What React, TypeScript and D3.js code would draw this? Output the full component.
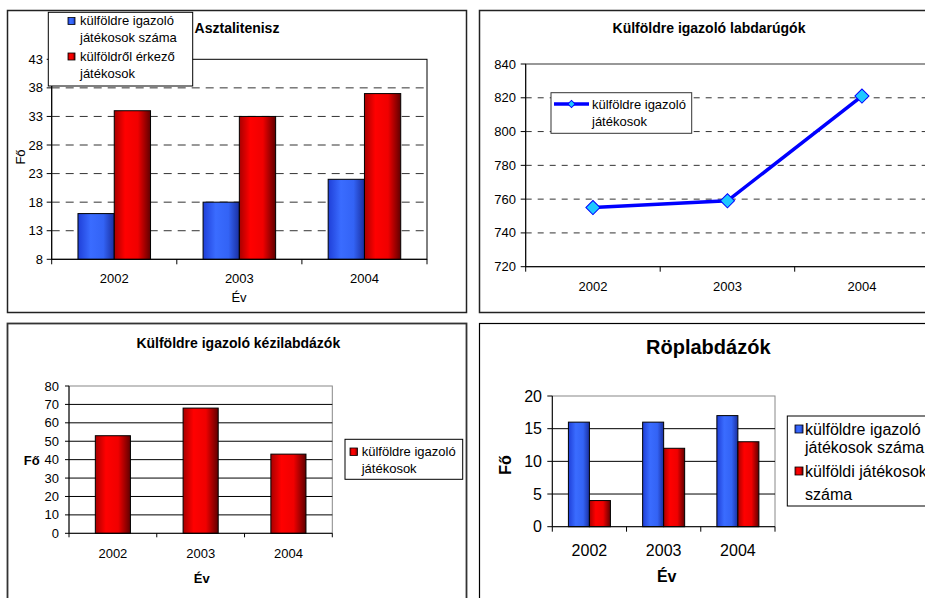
import { scaleBand, scaleLinear, line, symbol, symbolSquare } from "d3";

// shared categories
const years = ["2002", "2003", "2004"];

// Asztalitenisz
const ttForeign = [16, 18, 22];
const ttIncoming = [34, 33, 37];
const ttTicks = [8, 13, 18, 23, 28, 33, 38, 43];

// labdarúgók
const fbForeign = [755, 759, 821];
const fbTicks = [720, 740, 760, 780, 800, 820, 840];

// kézilabdázók
const hbForeign = [53, 68, 43];
const hbTicks = [0, 10, 20, 30, 40, 50, 60, 70, 80];

// Röplabdázók
const vbForeign = [16, 16, 17];
const vbIncoming = [4, 12, 13];
const vbTicks = [0, 5, 10, 15, 20];

const FONT = "'Liberation Sans', Arial, sans-serif";

function Gradients() {
    return (
        <defs>
            <linearGradient id="blueGrad" x1="0" x2="1" y1="0" y2="0">
                <stop offset="0%" stopColor="#1f3fd8" />
                <stop offset="35%" stopColor="#3a6cff" />
                <stop offset="70%" stopColor="#3363f5" />
                <stop offset="100%" stopColor="#1a2fa0" />
            </linearGradient>
            <linearGradient id="redGrad" x1="0" x2="1" y1="0" y2="0">
                <stop offset="0%" stopColor="#a80000" />
                <stop offset="30%" stopColor="#ff0000" />
                <stop offset="65%" stopColor="#f00000" />
                <stop offset="100%" stopColor="#600000" />
            </linearGradient>
        </defs>
    );
}

function TableTennis() {
    const x0 = 51.7, x1 = 427, top = 59.3, bottom = 259.3;
    const y = scaleLinear().domain([8, 43]).range([bottom, top]);
    const x = scaleBand().domain(years).range([x0, x1]).paddingInner(0.42).paddingOuter(0.21);
    const inner = scaleBand().domain(["a", "b"]).range([0, x.bandwidth()]);
    const step = x.step();
    const bounds = [0, 1, 2, 3].map(i => x0 + i * step);
    return (
        <g fontFamily={FONT}>
            <rect x={7.5} y={10.5} width={459} height={302} fill="white" stroke="#222" strokeWidth={1.5} />
            <rect x={x0} y={top} width={x1 - x0} height={bottom - top} fill="white" stroke="#000" />
            {ttTicks.slice(1, -1).map(t => (
                <line key={t} x1={x0} x2={x1} y1={y(t)} y2={y(t)} stroke="#333" strokeDasharray="8,6" />
            ))}
            {years.map((yr, i) => (
                <g key={yr}>
                    <rect x={x(yr)! + inner("a")!} y={y(ttForeign[i])} width={inner.bandwidth()}
                        height={bottom - y(ttForeign[i])} fill="url(#blueGrad)" stroke="#000" />
                    <rect x={x(yr)! + inner("b")!} y={y(ttIncoming[i])} width={inner.bandwidth()}
                        height={bottom - y(ttIncoming[i])} fill="url(#redGrad)" stroke="#000" />
                </g>
            ))}
            <line x1={x0} x2={x0} y1={top} y2={bottom} stroke="#000" />
            <line x1={x0} x2={x1} y1={bottom} y2={bottom} stroke="#000" />
            {ttTicks.map(t => (
                <g key={t}>
                    <line x1={x0 - 5} x2={x0} y1={y(t)} y2={y(t)} stroke="#000" />
                    <text x={43} y={y(t)} dy="0.35em" textAnchor="end" fontSize={13}>{t}</text>
                </g>
            ))}
            {bounds.map((b, i) => <line key={i} x1={b} x2={b} y1={bottom} y2={bottom + 5} stroke="#000" />)}
            {years.map(yr => (
                <text key={yr} x={x(yr)! + x.bandwidth() / 2} y={278} dy="0.35em" textAnchor="middle" fontSize={13}>{yr}</text>
            ))}
            <text x={239} y={297} dy="0.35em" textAnchor="middle" fontSize={13}>Év</text>
            <text transform="translate(20,157) rotate(-90)" dy="0.35em" textAnchor="middle" fontSize={13}>Fő</text>
            <text x={237} y={28} dy="0.35em" textAnchor="middle" fontSize={14} fontWeight="bold">Asztalitenisz</text>
            <rect x={48.3} y={12.3} width={144.4} height={73.7} fill="white" stroke="#000" />
            <rect x={68} y={17.5} width={7} height={7} fill="url(#blueGrad)" stroke="#000" strokeWidth={0.8} />
            <rect x={68} y={53} width={7} height={7} fill="url(#redGrad)" stroke="#000" strokeWidth={0.8} />
            <g fontSize={13}>
                <text x={80} y={20.7} dy="0.35em">külföldre igazoló</text>
                <text x={80} y={37.3} dy="0.35em">játékosok száma</text>
                <text x={80} y={56.7} dy="0.35em">külföldről érkező</text>
                <text x={80} y={73.3} dy="0.35em">játékosok</text>
            </g>
        </g>
    );
}

function Football() {
    const x0 = 525.7, top = 64, bottom = 266.7, step = 134.5;
    const x1 = x0 + step * 3;
    const y = scaleLinear().domain([720, 840]).range([bottom, top]);
    const x = scaleBand().domain(years).range([x0, x1]);
    const cx = (yr: string) => x(yr)! + x.bandwidth() / 2;
    const pts: [number, number][] = years.map((yr, i) => [cx(yr), y(fbForeign[i])]);
    const path = line()(pts) || "";
    const diamond = symbol().type(symbolSquare).size(100)() || "";
    const smallDiamond = symbol().type(symbolSquare).size(26)() || "";
    const bounds = [0, 1, 2, 3].map(i => x0 + i * step);
    return (
        <g fontFamily={FONT}>
            <rect x={479.5} y={10.5} width={470} height={302} fill="white" stroke="#222" strokeWidth={1.5} />
            <rect x={x0} y={top} width={x1 - x0} height={bottom - top} fill="white" stroke="#333" />
            {fbTicks.slice(1, -1).map(t => (
                <line key={t} x1={x0} x2={x1} y1={y(t)} y2={y(t)} stroke="#333" strokeDasharray="6,6" />
            ))}
            <line x1={x0} x2={x0} y1={top} y2={bottom} stroke="#000" />
            <line x1={x0} x2={x1} y1={bottom} y2={bottom} stroke="#000" />
            {fbTicks.map(t => (
                <g key={t}>
                    <line x1={x0 - 5} x2={x0} y1={y(t)} y2={y(t)} stroke="#000" />
                    <text x={516} y={y(t)} dy="0.35em" textAnchor="end" fontSize={13}>{t}</text>
                </g>
            ))}
            {bounds.map((b, i) => <line key={i} x1={b} x2={b} y1={bottom} y2={bottom + 5} stroke="#000" />)}
            {years.map(yr => (
                <text key={yr} x={cx(yr)} y={286} dy="0.35em" textAnchor="middle" fontSize={13}>{yr}</text>
            ))}
            <path d={path} fill="none" stroke="#0000ff" strokeWidth={3.5} />
            {pts.map((p, i) => (
                <path key={i} d={diamond} transform={`translate(${p[0]},${p[1]}) rotate(45)`} fill="#1ec8ff" stroke="#0000ff" />
            ))}
            <text x={709} y={28} dy="0.35em" textAnchor="middle" fontSize={14} fontWeight="bold">Külföldre igazoló labdarúgók</text>
            <rect x={551} y={92.7} width={140.7} height={40.6} fill="white" stroke="#333" />
            <line x1={554} x2={589} y1={104} y2={104} stroke="#0000ff" strokeWidth={3.5} />
            <path d={smallDiamond} transform="translate(571.5,104) rotate(45)" fill="#1ec8ff" stroke="#0000ff" />
            <g fontSize={13}>
                <text x={592} y={104.5} dy="0.35em">külföldre igazoló</text>
                <text x={592} y={121.5} dy="0.35em">játékosok</text>
            </g>
        </g>
    );
}

function Handball() {
    const x0 = 69, x1 = 332.3, top = 386, bottom = 533.3;
    const y = scaleLinear().domain([0, 80]).range([bottom, top]);
    const x = scaleBand().domain(years).range([x0, x1]).paddingInner(0.6).paddingOuter(0.3);
    const step = x.step();
    const bounds = [0, 1, 2, 3].map(i => x0 + i * step);
    return (
        <g fontFamily={FONT}>
            <rect x={7.5} y={323.5} width={459} height={290} fill="white" stroke="#333" strokeWidth={1.8} />
            <rect x={x0} y={top} width={x1 - x0} height={bottom - top} fill="white" stroke="#888" />
            {hbTicks.slice(1, -1).map(t => (
                <line key={t} x1={x0} x2={x1} y1={y(t)} y2={y(t)} stroke="#000" />
            ))}
            {years.map((yr, i) => (
                <rect key={yr} x={x(yr)} y={y(hbForeign[i])} width={x.bandwidth()}
                    height={bottom - y(hbForeign[i])} fill="url(#redGrad)" stroke="#000" />
            ))}
            <line x1={x0} x2={x0} y1={top} y2={bottom} stroke="#000" />
            <line x1={x0} x2={x1} y1={bottom} y2={bottom} stroke="#000" />
            {hbTicks.map(t => (
                <g key={t}>
                    <line x1={x0 - 4} x2={x0} y1={y(t)} y2={y(t)} stroke="#000" />
                    <text x={59} y={y(t)} dy="0.35em" textAnchor="end" fontSize={13}>{t}</text>
                </g>
            ))}
            {bounds.map((b, i) => <line key={i} x1={b} x2={b} y1={bottom} y2={bottom + 4} stroke="#000" />)}
            {years.map(yr => (
                <text key={yr} x={x(yr)! + x.bandwidth() / 2} y={553.3} dy="0.35em" textAnchor="middle" fontSize={13}>{yr}</text>
            ))}
            <text x={201.7} y={578.3} dy="0.35em" textAnchor="middle" fontSize={13} fontWeight="bold">Év</text>
            <text x={31.7} y={460} dy="0.35em" textAnchor="middle" fontSize={13} fontWeight="bold">Fő</text>
            <text x={238.3} y={343.3} dy="0.35em" textAnchor="middle" fontSize={14} fontWeight="bold">Külföldre igazoló kézilabdázók</text>
            <rect x={345} y={439.3} width={117.7} height={40} fill="white" stroke="#000" />
            <rect x={350} y={448} width={7.5} height={7.5} fill="url(#redGrad)" stroke="#000" strokeWidth={0.8} />
            <g fontSize={13}>
                <text x={361.7} y={451.7} dy="0.35em">külföldre igazoló</text>
                <text x={361.7} y={468.3} dy="0.35em">játékosok</text>
            </g>
        </g>
    );
}

function Volleyball() {
    const x0 = 552.3, x1 = 775, top = 396, bottom = 526.7;
    const y = scaleLinear().domain([0, 20]).range([bottom, top]);
    const x = scaleBand().domain(years).range([x0, x1]).paddingInner(0.434).paddingOuter(0.217);
    const inner = scaleBand().domain(["a", "b"]).range([0, x.bandwidth()]);
    const step = x.step();
    const bounds = [0, 1, 2, 3].map(i => x0 + i * step);
    return (
        <g fontFamily={FONT}>
            <rect x={479.5} y={323.5} width={470} height={290} fill="white" stroke="#000" strokeWidth={1.2} />
            <rect x={x0} y={top} width={x1 - x0} height={bottom - top} fill="white" stroke="#888" />
            {vbTicks.slice(1, -1).map(t => (
                <line key={t} x1={x0} x2={x1} y1={y(t)} y2={y(t)} stroke="#000" />
            ))}
            {years.map((yr, i) => (
                <g key={yr}>
                    <rect x={x(yr)! + inner("a")!} y={y(vbForeign[i])} width={inner.bandwidth()}
                        height={bottom - y(vbForeign[i])} fill="url(#blueGrad)" stroke="#000" />
                    <rect x={x(yr)! + inner("b")!} y={y(vbIncoming[i])} width={inner.bandwidth()}
                        height={bottom - y(vbIncoming[i])} fill="url(#redGrad)" stroke="#000" />
                </g>
            ))}
            <line x1={x0} x2={x0} y1={top} y2={bottom} stroke="#000" />
            <line x1={x0} x2={x1} y1={bottom} y2={bottom} stroke="#000" />
            {vbTicks.map(t => (
                <g key={t}>
                    <line x1={x0 - 5} x2={x0} y1={y(t)} y2={y(t)} stroke="#000" />
                    <text x={542} y={y(t)} dy="0.35em" textAnchor="end" fontSize={16}>{t}</text>
                </g>
            ))}
            {bounds.map((b, i) => <line key={i} x1={b} x2={b} y1={bottom} y2={bottom + 5} stroke="#000" />)}
            {years.map(yr => (
                <text key={yr} x={x(yr)! + x.bandwidth() / 2} y={550} dy="0.35em" textAnchor="middle" fontSize={16}>{yr}</text>
            ))}
            <text x={666.7} y={576.7} dy="0.35em" textAnchor="middle" fontSize={16} fontWeight="bold">Év</text>
            <text transform="translate(505,465) rotate(-90)" dy="0.35em" textAnchor="middle" fontSize={16} fontWeight="bold">Fő</text>
            <text x={708.3} y={347.3} dy="0.35em" textAnchor="middle" fontSize={20} fontWeight="bold">Röplabdázók</text>
            <rect x={787.3} y={416} width={160} height={90} fill="white" stroke="#000" />
            <rect x={795} y={425} width={8} height={8} fill="url(#blueGrad)" stroke="#000" strokeWidth={0.8} />
            <rect x={795} y={467} width={8} height={8} fill="url(#redGrad)" stroke="#000" strokeWidth={0.8} />
            <g fontSize={16}>
                <text x={805} y={429.3} dy="0.35em">külföldre igazoló</text>
                <text x={805} y={447.7} dy="0.35em">játékosok száma</text>
                <text x={805} y={471} dy="0.35em">külföldi játékosok</text>
                <text x={805} y={494.3} dy="0.35em">száma</text>
            </g>
        </g>
    );
}

export default function App() {
    return (
        <svg width={925} height={598} viewBox="0 0 925 598"
            style={{ position: "absolute", left: 0, top: 0, background: "white" }}>
            <Gradients />
            <rect x={0} y={0} width={925} height={598} fill="white" />
            <TableTennis />
            <Football />
            <Handball />
            <Volleyball />
        </svg>
    );
}
